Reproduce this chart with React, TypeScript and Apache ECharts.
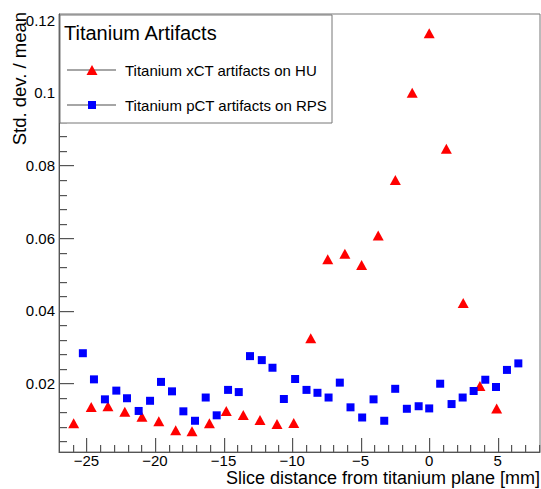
import React, { useEffect, useRef } from "react";
import * as echarts from "echarts";

const FONT = "'Liberation Sans', Arial, Helvetica, sans-serif";

const xctX = [-25.93, -24.65, -23.43, -22.2, -20.95, -19.72, -18.49, -17.3, -16.03, -14.8, -13.56, -12.34, -11.1, -9.88, -8.64, -7.4, -6.15, -4.93, -3.72, -2.47, -1.24, 0, 1.25, 2.48, 3.7, 4.92];
const xctY = [0.009, 0.0135, 0.0137, 0.0122, 0.0108, 0.0096, 0.0071, 0.0068, 0.009, 0.0124, 0.0113, 0.0099, 0.0088, 0.0091, 0.0324, 0.0542, 0.0557, 0.0526, 0.0607, 0.076, 0.1, 0.1164, 0.0846, 0.0421, 0.0193, 0.0131];

const pctX = [-25.26, -24.45, -23.65, -22.82, -22.04, -21.19, -20.36, -19.56, -18.76, -17.93, -17.08, -16.3, -15.5, -14.67, -13.89, -13.07, -12.21, -11.43, -10.6, -9.78, -8.95, -8.15, -7.34, -6.52, -5.74, -4.89, -4.06, -3.28, -2.48, -1.63, -0.77, 0, 0.8, 1.63, 2.44, 3.24, 4.09, 4.87, 5.67, 6.5];
const pctY = [0.0283, 0.0211, 0.0156, 0.018, 0.0159, 0.0124, 0.0152, 0.0204, 0.0178, 0.0123, 0.0097, 0.0161, 0.0112, 0.0182, 0.0176, 0.0275, 0.0264, 0.0243, 0.0157, 0.0212, 0.0182, 0.0174, 0.0161, 0.0202, 0.0134, 0.0106, 0.0156, 0.0097, 0.0185, 0.013, 0.0137, 0.0131, 0.0199, 0.0143, 0.0161, 0.0179, 0.021, 0.019, 0.0237, 0.0255];

const xMajorTicks = [-25, -20, -15, -10, -5, 0, 5];
const xMinorTicks = [-26, -24, -23, -22, -21, -19, -18, -17, -16, -14, -13, -12, -11, -9, -8, -7, -6, -4, -3, -2, -1, 1, 2, 3, 4, 6, 7, 8];
const yMajorTicks = [0.02, 0.04, 0.06, 0.08, 0.1, 0.12];
const yMinorTicks = [0.004, 0.008, 0.012, 0.016, 0.024, 0.028, 0.032, 0.036, 0.044, 0.048, 0.052, 0.056, 0.064, 0.068, 0.072, 0.076, 0.084, 0.088, 0.092, 0.096, 0.104, 0.108, 0.112, 0.116];

const seriesNames = ["Titanium xCT artifacts on HU", "Titanium pCT artifacts on RPS"];
const legendTitle = "Titanium Artifacts";
const xTitle = "Slice distance from titanium plane [mm]";
const yTitle = "Std. dev. / mean";

const X_MIN = -27;
const X_MAX = 8.08;
const Y_MIN = 0.0011;
const Y_MAX = 0.1217;

const AXIS_COLOR = "#555";

export default function App() {
  const ref = useRef<HTMLDivElement>(null);

  useEffect(() => {
    if (!ref.current) return;
    const chart = echarts.init(ref.current, null, { renderer: "svg" });
    const fmtX = (v: number) => String(+(+v).toFixed(2)).replace("-", "\u2212");
    const fmtY = (v: number) => String(+(+v).toFixed(3));

    // tick rows: [x, y, direction (0 = tick on x axis, 1 = tick on y axis), length]
    const tickData: number[][] = [
      ...xMajorTicks.map((v) => [v, Y_MIN, 0, 14]),
      ...xMinorTicks.map((v) => [v, Y_MIN, 0, 7]),
      ...yMajorTicks.map((v) => [X_MIN, v, 1, 15]),
      ...yMinorTicks.map((v) => [X_MIN, v, 1, 8]),
    ];

    const option: any = {
      animation: false,
      backgroundColor: "#fff",
      grid: {
        left: 59,
        right: 1,
        top: 14,
        bottom: 37,
        show: true,
        borderColor: "#777",
        borderWidth: 1,
        backgroundColor: "transparent",
      },
      xAxis: {
        type: "value",
        min: X_MIN,
        max: X_MAX,
        position: "bottom",
        axisLine: { show: true, onZero: false, lineStyle: { color: AXIS_COLOR, width: 1 } },
        axisTick: { show: false },
        axisLabel: { show: true, customValues: xMajorTicks, formatter: fmtX, fontSize: 15, color: "#000", fontFamily: FONT, margin: 1 },
        splitLine: { show: false },
      },
      yAxis: {
        type: "value",
        min: Y_MIN,
        max: Y_MAX,
        position: "left",
        axisLine: { show: true, onZero: false, lineStyle: { color: AXIS_COLOR, width: 1 } },
        axisTick: { show: false },
        axisLabel: { show: true, customValues: yMajorTicks, formatter: fmtY, fontSize: 15, color: "#000", fontFamily: FONT, margin: 4 },
        splitLine: { show: false },
      },
      series: [
        {
          type: "custom",
          silent: true,
          clip: false,
          z: 4,
          data: tickData,
          encode: { x: 0, y: 1 },
          renderItem: (_params: any, api: any) => {
            const p = api.coord([api.value(0), api.value(1)]);
            const dir = api.value(2);
            const len = api.value(3);
            if (dir === 0) {
              return {
                type: "rect",
                shape: { x: Math.round(p[0]), y: p[1] - len, width: 1.2, height: len },
                style: { fill: AXIS_COLOR },
              };
            }
            return {
              type: "rect",
              shape: { x: p[0], y: Math.round(p[1]), width: len, height: 1.2 },
              style: { fill: AXIS_COLOR },
            };
          },
        },
        {
          name: seriesNames[0],
          type: "scatter",
          symbol: "triangle",
          symbolSize: [11, 10],
          itemStyle: { color: "#ff0000", opacity: 1 },
          data: xctX.map((x, i) => [x, xctY[i]]),
          z: 3,
        },
        {
          name: seriesNames[1],
          type: "scatter",
          symbol: "rect",
          symbolSize: 8,
          itemStyle: { color: "#0000ff", opacity: 1 },
          data: pctX.map((x, i) => [x, pctY[i]]),
          z: 3,
        },
      ],
      graphic: [
        {
          type: "rect",
          z: 100,
          shape: { x: 60, y: 15, width: 272, height: 108 },
          style: { fill: "#fff", stroke: "#777", lineWidth: 1 },
        },
        {
          type: "text",
          z: 101,
          x: 64,
          y: 33,
          style: { text: legendTitle, font: `20px ${FONT}`, fill: "#000", textAlign: "left", textVerticalAlign: "middle" },
        },
        {
          type: "line",
          z: 101,
          shape: { x1: 67, y1: 70, x2: 116, y2: 70 },
          style: { stroke: "#888", lineWidth: 1.5 },
        },
        {
          type: "polygon",
          z: 102,
          shape: { points: [[92, 65], [97.5, 75], [86.5, 75]] },
          style: { fill: "#ff0000" },
        },
        {
          type: "text",
          z: 101,
          x: 125,
          y: 70,
          style: { text: seriesNames[0], font: `15px ${FONT}`, fill: "#000", textAlign: "left", textVerticalAlign: "middle" },
        },
        {
          type: "line",
          z: 101,
          shape: { x1: 67, y1: 105, x2: 116, y2: 105 },
          style: { stroke: "#888", lineWidth: 1.5 },
        },
        {
          type: "rect",
          z: 102,
          shape: { x: 88, y: 101, width: 8, height: 8 },
          style: { fill: "#0000ff" },
        },
        {
          type: "text",
          z: 101,
          x: 125,
          y: 105,
          style: { text: seriesNames[1], font: `15px ${FONT}`, fill: "#000", textAlign: "left", textVerticalAlign: "middle" },
        },
        {
          type: "text",
          z: 101,
          x: 19,
          y: 12,
          rotation: Math.PI / 2,
          style: { text: yTitle, font: `18.5px ${FONT}`, fill: "#000", textAlign: "right", textVerticalAlign: "middle" },
        },
        {
          type: "text",
          z: 101,
          x: 540,
          y: 478,
          style: { text: xTitle, font: `18px ${FONT}`, fill: "#000", textAlign: "right", textVerticalAlign: "middle" },
        },
      ],
    };
    chart.setOption(option);
    return () => chart.dispose();
  }, []);

  return (
    <div
      ref={ref}
      style={{ position: "fixed", left: 0, top: 0, width: 541, height: 489, background: "#fff" }}
    />
  );
}
